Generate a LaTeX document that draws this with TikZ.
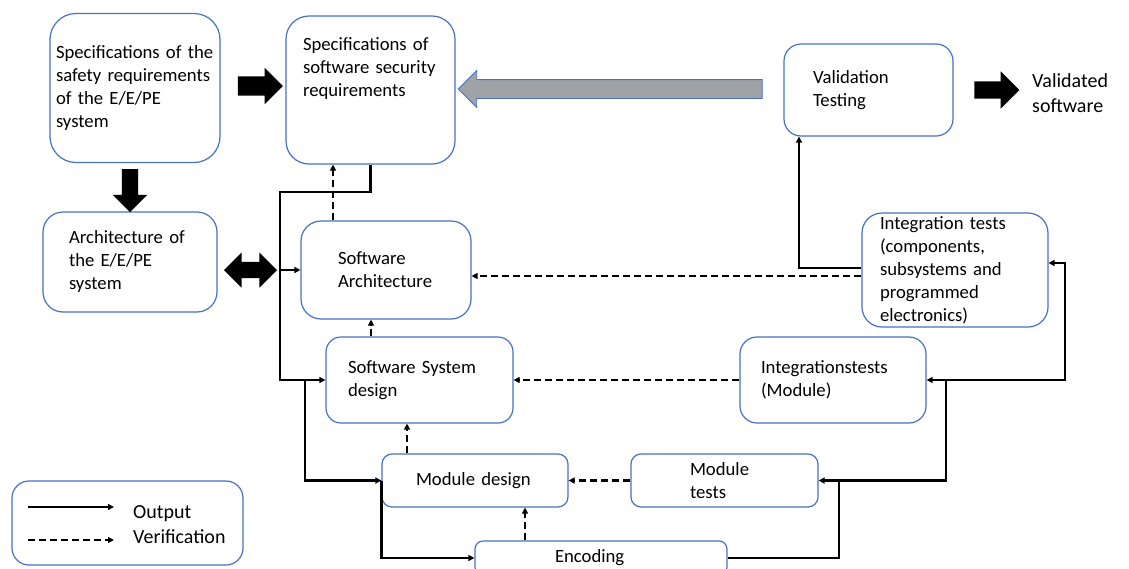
\documentclass[tikz,border=0pt]{standalone}
\usepackage{fontspec}
\setmainfont{Carlito}
\usepackage{xcolor}
\usepackage{tikz}
\usetikzlibrary{shapes.arrows, arrows.meta, calc}

\definecolor{boxblue}{RGB}{68,114,196}
\definecolor{arrowgray}{RGB}{160,163,165}
\newcommand{\diagfont}{\fontsize{18.7}{23}\selectfont}
\newcommand{\bigfont}{\fontsize{20}{24.5}\selectfont}

\begin{document}
\begin{tikzpicture}[
    x=1pt, y=-1pt,
    box/.style={
        rectangle, draw=boxblue, line width=1.2pt, rounded corners=18pt,
        inner xsep=0pt, inner ysep=0pt, align=left, font=\diagfont
    },
    output/.style={-{Triangle[length=6pt,width=6pt]}, line width=2.2pt},
    verif/.style={-{Triangle[length=6pt,width=6pt]}, line width=2.2pt, dash pattern=on 7pt off 4pt},
    blockarrow/.style={single arrow, fill=black, inner xsep=0pt, inner ysep=9pt, single arrow head extend=9pt}
]
\useasboundingbox (0,0) rectangle (1129,568);
\clip (0,0) rectangle (1129,568);

% 1. Requirement and architecture boxes (left column)
\node[box, minimum width=170pt, minimum height=149pt, text width=158pt, rounded corners=26pt] (safereq) at (135,88) {
    Specifications of the\\safety requirements\\of the E/E/PE\\system};
\node[box, minimum width=169pt, minimum height=148pt, text width=135pt, rounded corners=23pt] (swreq) at (370.5,90) {
    Specifications of\\software security\\requirements\\~\\~};
\node[box, minimum width=174pt, minimum height=100pt, text width=122pt, rounded corners=20pt] (eearch) at (130,262) {
    Architecture of\\the E/E/PE\\system};

% 2. Design side of the V
\node[box, minimum width=170pt, minimum height=98pt, text width=96pt, rounded corners=20pt] (swarch) at (386,270) {Software\\Architecture};
\node[box, minimum width=187pt, minimum height=86pt, text width=143pt, rounded corners=15pt] (sysdes) at (419.5,380) {Software System\\design};
\node[box, minimum width=186pt, minimum height=53pt, text width=118pt, rounded corners=10pt] (moddes) at (475,480.5) {Module design};
\node[box, minimum width=252pt, minimum height=34pt, text width=92pt, rounded corners=8pt] (encoding) at (601,558) {Encoding};

% 3. Test side of the V
\node[box, minimum width=187pt, minimum height=53pt, text width=69pt, rounded corners=10pt] (modtests) at (724.5,480.5) {Module\\tests};
\node[box, minimum width=186pt, minimum height=86pt, text width=144pt, rounded corners=17pt] (inttestmod) at (833,380) {Integrationstests\\(Module)};
\node[box, minimum width=186pt, minimum height=114pt, text width=150pt, rounded corners=20pt] (inttest) at (955,270) {
    Integration tests\\(components,\\subsystems and\\programmed\\electronics)};
\node[box, minimum width=169pt, minimum height=92pt, text width=111pt, rounded corners=17pt] (valtest) at (868.5,90) {Validation\\Testing};
\node[anchor=west, align=left, font=\bigfont, inner sep=0pt] (validated) at (1032,93) {Validated\\software};

% 4. Block arrows
\node[blockarrow, inner ysep=9.5pt, single arrow head extend=8.5pt, minimum height=45pt] (toswreq) at (255.5,86) {};
\node[blockarrow, inner xsep=8pt, inner ysep=0pt, shape border rotate=270, minimum height=43pt] (toeearch) at (130,186.5) {};
\node[double arrow, fill=black, inner xsep=0pt, inner ysep=8pt, minimum height=53pt, double arrow head extend=9.5pt] (archlink) at (250.5,270) {};
\node[blockarrow, shape border rotate=180, fill=arrowgray, draw=boxblue, line width=0.8pt, minimum height=304pt] (feedback) at (615,89) {};
\node[blockarrow, inner ysep=8.5pt, single arrow head extend=10pt, minimum height=45pt] (tovalidated) at (992.5,90) {};

% 5. Output lines (left bus)
\coordinate (busl) at (280,192);
\coordinate (busm) at (305,380);
\draw[output] (swreq.south) |- (busl) |- (sysdes.west);
\draw[output] (busl |- swarch.west) -- (swarch.west);
\draw[output] (busm) |- (moddes.west);
\draw[output] (moddes.west) |- (encoding.west);

% 6. Output lines (right bus)
\coordinate (busr1) at (839,480.5);
\coordinate (busr2) at (946,380);
\coordinate (busr3) at (1065,263);
\coordinate (valin) at (799,268);
\draw[output] (encoding.east) -| (busr1) -- (modtests.east);
\draw[output] (busr1) -| (busr2) -- (inttestmod.east);
\draw[output] (busr2) -| (busr3) -- (busr3 -| inttest.east);
\draw[output] (valin -| inttest.west) -- (valin) -- (valin |- valtest.south);

% 7. Verification lines
\coordinate (vsa) at ($(swarch.north)+(-53,0)$);
\coordinate (vsys) at ($(sysdes.north)+(-48.5,0)$);
\coordinate (vmod) at ($(moddes.north)+(-68,0)$);
\coordinate (venc) at ($(encoding.north)+(-76,0)$);
\coordinate (vint) at ($(inttest.west)+(0,6)$);
\draw[verif] (vsa) -- (vsa |- swreq.south);
\draw[verif] (vsys) -- (vsys |- swarch.south);
\draw[verif] (vmod) -- (vmod |- sysdes.south);
\draw[verif] (venc) -- (venc |- moddes.south);
\draw[verif] (vint) -- (vint -| swarch.east);
\draw[verif] (inttestmod.west) -- (sysdes.east);
\draw[verif] (modtests.west) -- (moddes.east);

% 8. Legend
\node[box, minimum width=231pt, minimum height=84pt, rounded corners=17pt] (legend) at (127.5,523) {};
\coordinate (lgout1) at (28,507);
\coordinate (lgout2) at (114,507);
\coordinate (lgver1) at (28,540);
\coordinate (lgver2) at (114,540);
\draw[output] (lgout1) -- (lgout2);
\draw[verif] (lgver1) -- (lgver2);
\node[anchor=west, align=left, font=\bigfont, inner sep=0pt] (legendtxt) at (133,524.5) {Output\\Verification};

\end{tikzpicture}
\end{document}
